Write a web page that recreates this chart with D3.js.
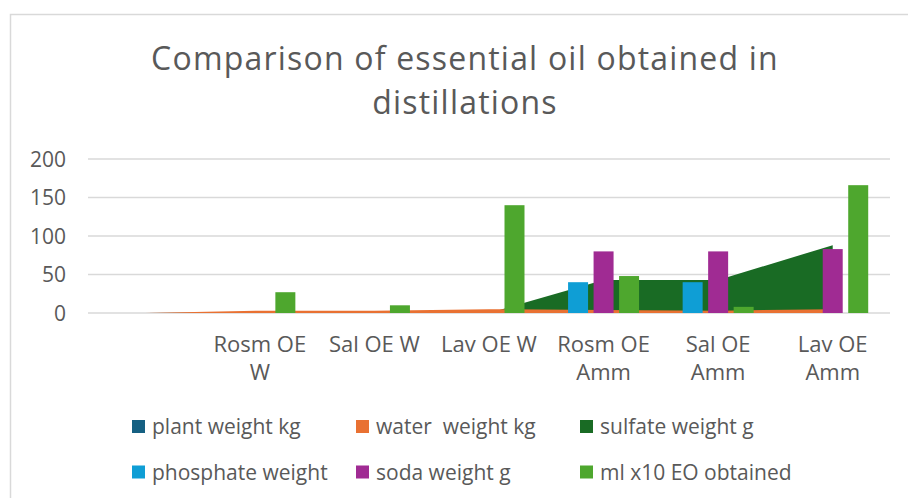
<!DOCTYPE html>
<html>
<head>
<meta charset="utf-8">
<script src="https://cdn.jsdelivr.net/npm/d3@7"></script>
<style>
  html, body { margin: 0; padding: 0; background: #fff; }
  text { font-family: "Open Sans", "Noto Sans", sans-serif; fill: #595959; }
</style>
</head>
<body>
<div id="chart"></div>
<script>
// chart data
var categories = ['', 'Rosm OE W', 'Sal OE W', 'Lav OE W', 'Rosm OE Amm', 'Sal OE Amm', 'Lav OE Amm']
var catLabels = ['', 'Rosm OE\nW', 'Sal OE W', 'Lav OE W', 'Rosm OE\nAmm', 'Sal OE\nAmm', 'Lav OE\nAmm']
var plantWeight = [0, 1, 1, 1, 1, 1, 1]
var waterWeight = [0, 3, 3, 5, 4, 3, 5]
var sulfateWeight = [0, 0, 0, 0, 43, 43, 88]
var phosphateWeight = [0, 0, 0, 0, 40, 40, 0]
var sodaWeight = [0, 0, 0, 0, 80, 80, 83]
var mlEO = [0, 27, 10, 140, 48, 8, 166]
var yTicks = [0, 50, 100, 150, 200]
var titleLines = ['Comparison of essential oil obtained in', 'distillations']

var areaSeries = [
    {name: 'plant weight kg', values: plantWeight, color: '#156082'}
    , {name: 'water  weight kg', values: waterWeight, color: '#E97132'}
    , {name: 'sulfate weight g', values: sulfateWeight, color: '#196B24'}
]
var barSeries = [
    {name: 'phosphate weight', values: phosphateWeight, color: '#0F9ED5'}
    , {name: 'soda weight g', values: sodaWeight, color: '#A02B93'}
    , {name: 'ml x10 EO obtained', values: mlEO, color: '#4EA72E'}
]

var width = 908, height = 498

var svg = d3.select('#chart').append('svg')
    .attr('width', width)
    .attr('height', height)

// chart frame (runs off the right / bottom edge like the screenshot)
svg.append('rect')
    .attr('x', 10.5).attr('y', 14.5)
    .attr('width', 1000).attr('height', 1000)
    .attr('fill', '#fff')
    .attr('stroke', '#d9d9d9')
    .attr('stroke-width', 1.5)

// title, two lines
svg.append('g').selectAll('text')
    .data(titleLines)
    .join('text')
    .attr('x', 465)
    .attr('y', function (d, j) { return 70 + j * 44 })
    .attr('text-anchor', 'middle')
    .style('font-size', '32px')
    .style('letter-spacing', '1.2px')
    .text(function (d) { return d })

var x = d3.scaleBand().domain(categories).range([88, 890]).padding(0)
var y = d3.scaleLinear().domain([0, 200]).range([313, 159])
var cx = function (i) { return x(categories[i]) + x.bandwidth() / 2 }

// gridlines + y labels
svg.append('g').selectAll('line')
    .data(yTicks)
    .join('line')
    .attr('x1', 88).attr('x2', 890)
    .attr('y1', function (d) { return y(d) }).attr('y2', function (d) { return y(d) })
    .attr('stroke', '#d9d9d9')
    .attr('stroke-width', 1.5)

svg.append('g').selectAll('text')
    .data(yTicks)
    .join('text')
    .attr('x', 66)
    .attr('y', function (d) { return y(d) })
    .attr('dy', '0.36em')
    .attr('text-anchor', 'end')
    .style('font-size', '21px')
    .text(function (d) { return d })

// areas: sulfate at the back, water in front of plant
var area = d3.area()
    .x(function (d, i) { return cx(i) })
    .y0(y(0))
    .y1(function (d) { return y(d) })

svg.append('g').selectAll('path')
    .data([areaSeries[2], areaSeries[0], areaSeries[1]])
    .join('path')
    .attr('d', function (s) { return area(s.values) })
    .attr('fill', function (s) { return s.color })

// clustered bars
var inner = d3.scaleBand()
    .domain(barSeries.map(function (s) { return s.name }))
    .range([-35.5, 35.5])
    .paddingInner(0.216)

var barG = svg.append('g')
barSeries.forEach(function (s) {
    barG.append('g').selectAll('rect')
        .data(s.values)
        .join('rect')
        .attr('x', function (d, i) { return cx(i) + inner(s.name) })
        .attr('width', inner.bandwidth())
        .attr('y', function (d) { return y(d) })
        .attr('height', function (d) { return y(0) - y(d) })
        .attr('fill', s.color)
})

// category labels (wrapped like excel does)
var catG = svg.append('g')
catLabels.forEach(function (lbl, i) {
    var t = catG.append('text')
        .attr('x', cx(i))
        .attr('y', 352)
        .attr('text-anchor', 'middle')
        .style('font-size', '22px')
    lbl.split('\n').forEach(function (line, j) {
        t.append('tspan')
            .attr('x', cx(i))
            .attr('dy', j === 0 ? 0 : 28)
            .text(line)
    })
})

// legend
var legendItems = areaSeries.concat(barSeries)
var legCols = [132, 356, 580], legRows = [426.5, 472]
var leg = svg.append('g').selectAll('g')
    .data(legendItems)
    .join('g')
    .attr('transform', function (d, i) {
        return 'translate(' + legCols[i % 3] + ',' + legRows[Math.floor(i / 3)] + ')'
    })
leg.append('rect')
    .attr('x', 0).attr('y', -6.5)
    .attr('width', 13).attr('height', 13)
    .attr('fill', function (d) { return d.color })
leg.append('text')
    .attr('x', 20)
    .attr('dy', '0.36em')
    .style('font-size', '21px')
    .style('white-space', 'pre')
    .text(function (d) { return d.name })
</script>
</body>
</html>
